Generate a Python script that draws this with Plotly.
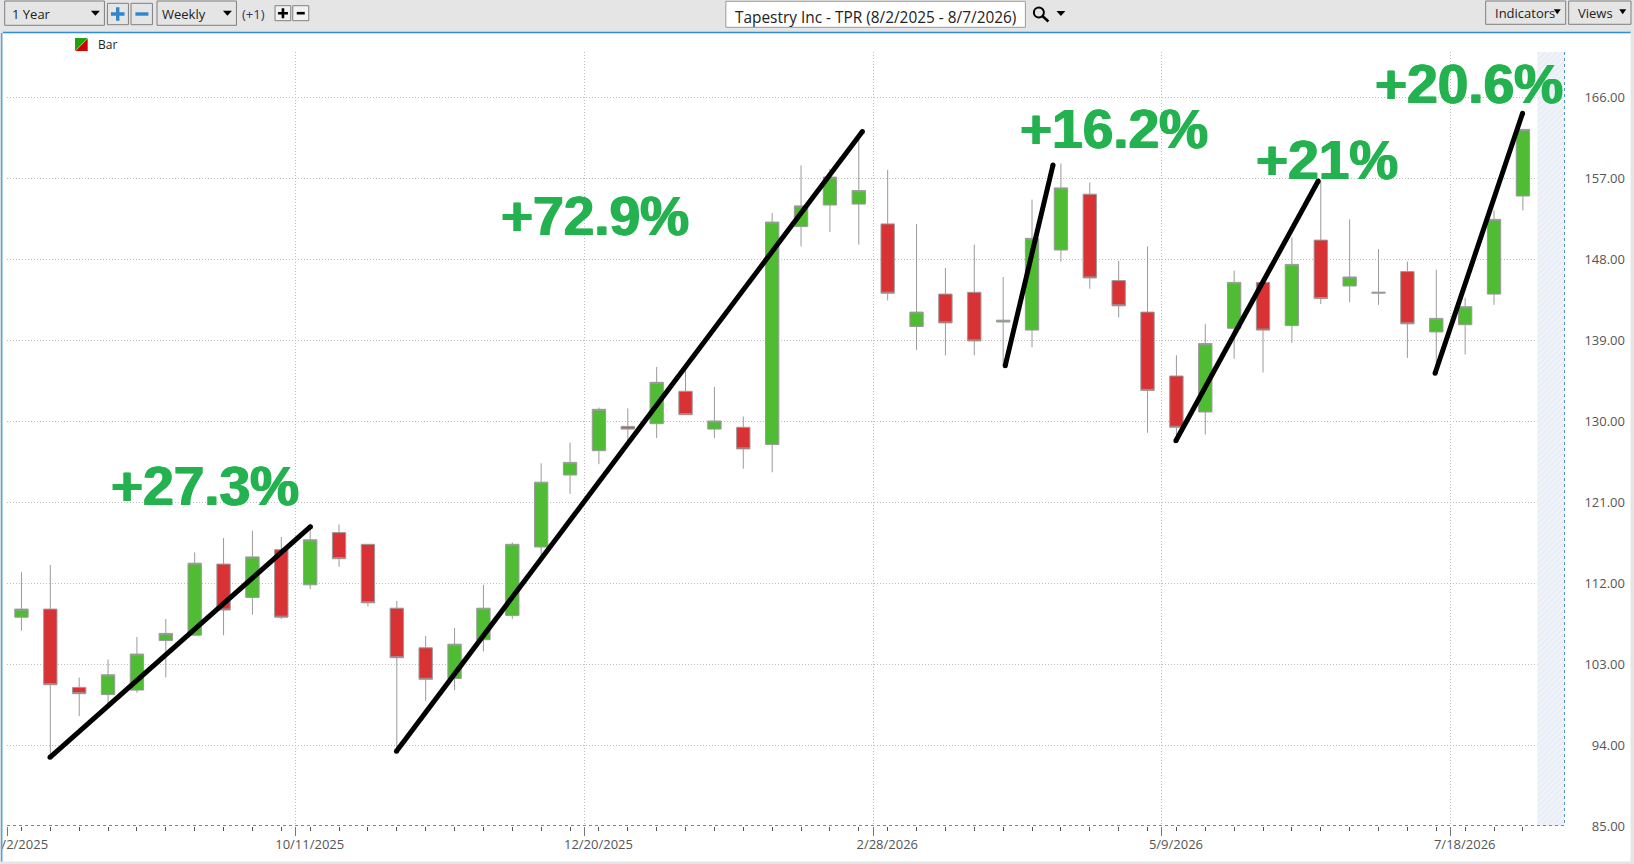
import plotly.graph_objects as go

# candle sits mid-week, week start is 8/2/2025 + 7 days * index
candle_x = ["2025-08-05 12:00", "2025-08-12 12:00", "2025-08-19 12:00", "2025-08-26 12:00", "2025-09-02 12:00",
            "2025-09-09 12:00", "2025-09-16 12:00", "2025-09-23 12:00", "2025-09-30 12:00", "2025-10-07 12:00",
            "2025-10-14 12:00", "2025-10-21 12:00", "2025-10-28 12:00", "2025-11-04 12:00", "2025-11-11 12:00",
            "2025-11-18 12:00", "2025-11-25 12:00", "2025-12-02 12:00", "2025-12-09 12:00", "2025-12-16 12:00",
            "2025-12-23 12:00", "2025-12-30 12:00", "2026-01-06 12:00", "2026-01-13 12:00", "2026-01-20 12:00",
            "2026-01-27 12:00", "2026-02-03 12:00", "2026-02-10 12:00", "2026-02-17 12:00", "2026-02-24 12:00",
            "2026-03-03 12:00", "2026-03-10 12:00", "2026-03-17 12:00", "2026-03-24 12:00", "2026-03-31 12:00",
            "2026-04-07 12:00", "2026-04-14 12:00", "2026-04-21 12:00", "2026-04-28 12:00", "2026-05-05 12:00",
            "2026-05-12 12:00", "2026-05-19 12:00", "2026-05-26 12:00", "2026-06-02 12:00", "2026-06-09 12:00",
            "2026-06-16 12:00", "2026-06-23 12:00", "2026-06-30 12:00", "2026-07-07 12:00", "2026-07-14 12:00",
            "2026-07-21 12:00", "2026-07-28 12:00", "2026-08-04 12:00"]
opens = [108.2, 109.1, 100.4, 99.6, 100.1, 105.6, 106.2, 114.1, 110.4, 115.7, 111.8, 117.6, 116.3, 109.2, 104.8,
         101.4, 105.7, 108.4, 116.0, 124.0, 126.7, 129.4, 129.7, 133.3, 129.1, 129.3, 127.4, 151.6, 154.0, 154.1,
         151.9, 140.5, 144.1, 144.3, 141.0, 140.1, 149.0, 155.2, 145.6, 142.1, 135.0, 131.0, 140.3, 145.4, 140.6,
         150.1, 145.0, 144.2, 146.6, 139.9, 140.7, 144.1, 155.0]
closes = [109.1, 100.7, 99.7, 101.8, 104.1, 106.4, 114.2, 109.0, 114.9, 108.2, 116.8, 114.7, 109.8, 103.7, 101.3,
          105.2, 109.2, 116.3, 123.2, 125.4, 131.3, 129.1, 134.3, 130.7, 130.0, 126.9, 152.1, 153.9, 157.1, 155.6,
          144.2, 142.1, 140.9, 138.9, 141.2, 150.3, 155.9, 145.9, 142.8, 133.4, 129.3, 138.6, 145.4, 140.1, 147.4,
          143.6, 146.0, 144.3, 140.8, 141.4, 142.7, 152.4, 162.4]
highs = [113.2, 114.0, 101.5, 103.5, 106.0, 108.0, 115.4, 117.0, 117.8, 117.1, 118.6, 118.5, 116.3, 110.0, 106.1,
         107.0, 111.8, 116.5, 125.3, 127.6, 131.5, 131.4, 136.0, 135.6, 133.8, 130.5, 153.1, 158.4, 158.0, 161.9,
         157.9, 151.9, 147.0, 149.6, 146.0, 154.6, 158.6, 156.5, 147.8, 149.4, 137.3, 140.8, 146.7, 145.4, 150.4,
         156.7, 152.4, 149.1, 147.7, 146.8, 143.7, 153.4, 162.4]
lows = [106.7, 92.6, 97.2, 98.5, 99.8, 101.5, 106.2, 106.2, 108.5, 108.0, 111.3, 113.8, 109.4, 93.3, 98.9,
        100.1, 104.4, 108.0, 114.9, 121.9, 125.2, 127.8, 128.1, 130.7, 128.1, 124.7, 124.3, 149.4, 151.0, 149.6,
        143.4, 137.9, 137.3, 137.3, 136.1, 138.2, 147.7, 144.7, 141.5, 128.7, 127.8, 128.5, 136.9, 135.4, 138.7,
        143.0, 143.2, 142.9, 137.0, 135.4, 137.4, 142.9, 153.4]

price_ticks = [85, 94, 103, 112, 121, 130, 139, 148, 157, 166]
date_ticks = ["2025-08-02", "2025-10-11", "2025-12-20", "2026-02-28", "2026-05-09", "2026-07-18"]
date_labels = ["8/2/2025", "10/11/2025", "12/20/2025", "2/28/2026", "5/9/2026", "7/18/2026"]

# hand drawn trend lines
trend_x = [["2025-08-12 10:00", "2025-10-14 13:30"],
           ["2025-11-04 10:00", "2026-02-25 09:00"],
           ["2026-04-01 00:00", "2026-04-12 14:00"],
           ["2026-05-12 09:00", "2026-06-15 21:00"],
           ["2026-07-14 05:00", "2026-08-04 10:00"]]
trend_y = [[92.63, 118.26], [93.3, 162.17], [136.14, 158.44], [127.8, 156.67], [135.3, 164.19]]
gain_labels = ["+27.3%", "+72.9%", "+16.2%", "+21%", "+20.6%"]

future_x = ["2026-08-08", "2026-08-08", "2026-08-14 14:00", "2026-08-14 14:00"]
future_y = [85, 171, 171, 85]

W, H = 1634, 864
L, R, T, B = 7.3, 9, 52, 38
PLOT_RIGHT = 1564.5
GREEN = "#50BC34"
RED = "#D93235"
WICK = "#9A9A9A"
LABEL = "#555555"
GAIN = "#23B24F"
PANEL = "#E5E5E5"


def px(x):
    return (x - L) / (W - L - R)


def py(y):
    return 1 - (y - T) / (H - T - B)


shapes = []
notes = []


def box(x0, y0, x1, y1, fill, line="#7F7F7F", width=1):
    shapes.append(dict(type="rect", xref="paper", yref="paper", x0=px(x0), x1=px(x1), y0=py(y0), y1=py(y1),
                       fillcolor=fill, line=dict(color=line, width=width), layer="above"))


def poly(points, fill):
    path = "M " + " L ".join(f"{px(a)} {py(b)}" for a, b in points) + " Z"
    shapes.append(dict(type="path", xref="paper", yref="paper", path=path, fillcolor=fill,
                       line=dict(width=0), layer="above"))


def seg(x0, y0, x1, y1, color, width=1, dash="solid"):
    shapes.append(dict(type="line", xref="paper", yref="paper", x0=px(x0), x1=px(x1), y0=py(y0), y1=py(y1),
                       line=dict(color=color, width=width, dash=dash), layer="above"))


def text(x, y, s, size=13, color="#222222", anchor="left"):
    notes.append(dict(text=s, xref="paper", yref="paper", x=px(x), y=py(y), xanchor=anchor, yanchor="middle",
                      showarrow=False, font=dict(family="Open Sans", size=size, color=color)))


def arrow(x, y, half=4.5):
    poly([(x - half, y - 2.5), (x + half, y - 2.5), (x, y + 2.5)], "#000000")


def plus(cx, cy, arm, thick, color):
    a, t = arm, thick / 2
    poly([(cx - a, cy - t), (cx - t, cy - t), (cx - t, cy - a), (cx + t, cy - a), (cx + t, cy - t), (cx + a, cy - t),
          (cx + a, cy + t), (cx + t, cy + t), (cx + t, cy + a), (cx - t, cy + a), (cx - t, cy + t), (cx - a, cy + t)],
         color)


def minus(cx, cy, arm, thick, color):
    poly([(cx - arm, cy - thick / 2), (cx + arm, cy - thick / 2), (cx + arm, cy + thick / 2),
          (cx - arm, cy + thick / 2)], color)


fig = go.Figure()

fig.add_trace(go.Scatter(x=future_x, y=future_y, mode="none", fill="toself", hoverinfo="skip",
                         fillcolor="#ECF0F8",
                         fillpattern=dict(shape="/", fgcolor="#DDE5F1", bgcolor="#F0F3F9", size=4, solidity=0.4)))

fig.add_trace(go.Candlestick(x=candle_x, open=opens, high=highs, low=lows, close=closes, name="Bar",
                             increasing=dict(fillcolor=GREEN, line=dict(color=WICK, width=1)),
                             decreasing=dict(fillcolor=RED, line=dict(color=WICK, width=1))))

for xs, ys in zip(trend_x, trend_y):
    fig.add_trace(go.Scatter(x=xs, y=ys, mode="lines+markers", hoverinfo="skip",
                             line=dict(color="#000000", width=5),
                             marker=dict(color="#000000", size=5)))

# toolbar
box(0, 0, W, 32, PANEL, PANEL)
seg(3, 32.4, 1631, 32.4, "#2E8FD8", 1.5)
box(5, 1, 104.7, 25.3, PANEL)
text(10.7, 13.6, "1 Year")
arrow(95.7, 13.3)
box(107.7, 3.3, 128.7, 24.7, PANEL)
plus(118, 14, 6.8, 3.4, "#2F86C8")
box(131.3, 3.3, 152.7, 24.7, PANEL)
minus(142.2, 14, 6.5, 3.4, "#2F86C8")
box(157.3, 1, 236.7, 25.3, PANEL)
text(160.7, 13.6, "Weekly")
arrow(227.7, 13.3)
text(240.7, 13.6, "(+1)", color="#333366")
box(275.3, 5.7, 291, 20.7, "#F2F2F2")
plus(283.2, 13.2, 5, 2.6, "#000000")
box(293, 5.7, 309, 20.7, "#F2F2F2")
minus(301, 13.2, 4, 2.6, "#000000")
box(726, 1.3, 1025.5, 27.3, "#FFFFFF", "#9A9A9A")
text(875.5, 17.3, "Tapestry Inc - TPR (8/2/2025 - 8/7/2026)", size=15.4, anchor="center")
shapes.append(dict(type="circle", xref="paper", yref="paper", x0=px(1034), x1=px(1044), y0=py(7.5), y1=py(17.5),
                   line=dict(color="#000000", width=2), layer="above"))
seg(1042.5, 16, 1048.5, 21.5, "#000000", 2.5)
arrow(1061, 13.5)
box(1485.7, 1, 1565.7, 24.3, PANEL)
text(1493, 12.6, "Indicators")
arrow(1557.3, 11.7, 3.5)
box(1568.7, 1, 1631, 24.3, PANEL)
text(1575.7, 12.6, "Views")
arrow(1622.7, 11.7, 3.5)

# window frame
box(0, 32, 1.2, H, PANEL, PANEL)
box(1.2, 33, 2.8, H, "#5AA5DC", "#5AA5DC", 0)
box(1631, 32, W, H, PANEL, PANEL)
box(0, 862, W, H, PANEL, PANEL)

# plot frame
seg(L, 825.5, PLOT_RIGHT, 825.5, "#4F94C8", 1, "dot")
seg(PLOT_RIGHT, T, PLOT_RIGHT, 825.5, "#4F94C8", 1, "dot")

# legend swatch
poly([(75.3, 38), (88, 38), (75.3, 51)], "#1FA30F")
poly([(88, 38.5), (88, 51), (75.8, 51)], "#D00000")
text(96.4, 44.4, "Bar", size=12)

for xs, ys, s in zip([205, 595, 1114, 1327, 1469], [486, 216, 129, 160, 84], gain_labels):
    notes.append(dict(text=s, xref="paper", yref="paper", x=px(xs), y=py(ys), xanchor="center",
                      yanchor="middle", showarrow=False,
                      font=dict(family="Liberation Sans", size=55, color=GAIN, weight="bold",
                                shadow="0.8px 0 0 #23B24F, -0.8px 0 0 #23B24F")))

fig.update_layout(
    width=W, height=H, margin=dict(l=L, r=R, t=T, b=B, pad=0),
    paper_bgcolor="#FFFFFF", plot_bgcolor="#FFFFFF", showlegend=False, boxgap=0.34,
    shapes=shapes, annotations=notes,
    xaxis=dict(type="date", domain=[0, (PLOT_RIGHT - L) / (W - L - R)], range=["2025-08-02", "2026-08-14 14:00"],
               automargin=False, rangeslider=dict(visible=False), tickmode="array", tickvals=date_ticks,
               ticktext=date_labels, ticks="outside", ticklen=9, tickcolor="#777777", tickwidth=1, ticklabelshift=14,
               ticklabelstandoff=-3, ticklabeloverflow="allow",
               showgrid=True, gridcolor="#BDBDBD", griddash="1px,2px", gridwidth=1, zeroline=False, showline=False,
               tickfont=dict(family="Open Sans", size=13, color=LABEL),
               minor=dict(tickmode="array", tickvals=candle_x, ticks="outside", ticklen=4,
                          tickcolor="#555555", tickwidth=1, showgrid=False)),
    yaxis=dict(range=[85, 171], automargin=False, anchor="free", position=1, side="left", tickmode="array",
               tickvals=price_ticks, tickformat=".2f", ticks="", showgrid=True, gridcolor="#BDBDBD",
               griddash="1px,2px", gridwidth=1, zeroline=False, showline=False,
               tickfont=dict(family="Open Sans", size=13, color=LABEL)),
)

fig.write_html("out.html", config=dict(displayModeBar=False),
               post_script="document.body.style.margin='0';document.body.style.overflow='hidden';")
